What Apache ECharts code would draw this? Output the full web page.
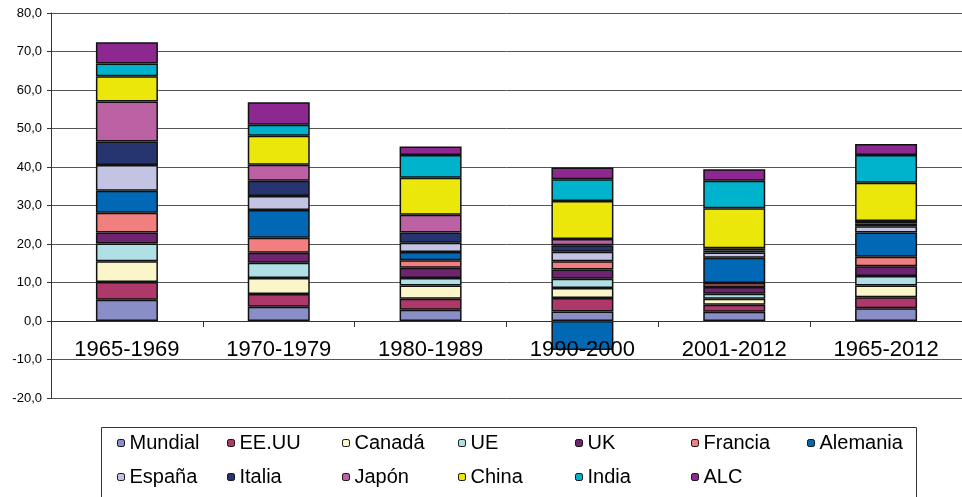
<!DOCTYPE html>
<html>
<head>
<meta charset="utf-8">
<script src="https://cdn.jsdelivr.net/npm/echarts@6/dist/echarts.min.js"></script>
<style>html,body{margin:0;padding:0;background:#fff}#c{width:962px;height:497px}</style>
</head>
<body>
<div id="c"></div>
<script>
var categories = ['1965-1969','1970-1979','1980-1989','1990-2000','2001-2012','1965-2012'];
var yTicks = [-20,-10,0,10,20,30,40,50,60,70,80];
var mundial  = [5.5, 3.7, 2.9, 2.5, 2.4, 3.3];
var eeuu     = [4.6, 3.3, 2.9, 3.5, 1.8, 2.9];
var canada   = [5.4, 4.2, 3.4, 2.6, 1.6, 3.0];
var ue       = [4.6, 3.9, 2.0, 2.4, 1.3, 2.5];
var uk       = [2.9, 2.6, 2.6, 2.4, 1.7, 2.5];
var francia  = [5.1, 3.9, 2.0, 2.1, 1.1, 2.5];
var alemania = [5.7, 7.2, 2.1, -7.5, 6.5, 6.3];
var espana   = [6.7, 3.7, 2.4, 2.5, 1.4, 1.6];
var italia   = [6.1, 3.9, 2.7, 1.7, 0.5, 0.7];
var japon    = [10.4, 4.2, 4.6, 1.6, 0.6, 0.7];
var china    = [6.6, 7.5, 9.6, 9.9, 10.4, 9.9];
var india    = [3.3, 2.9, 5.9, 5.6, 7.1, 7.2];
var alc      = [5.5, 5.8, 2.2, 3.1, 3.0, 2.9];

var seriesNames = ['Mundial','EE.UU','Canadá','UE','UK','Francia','Alemania','España','Italia','Japón','China','India','ALC'];
var seriesData = [mundial, eeuu, canada, ue, uk, francia, alemania, espana, italia, japon, china, india, alc];
var colors = ['#8A8EC6','#AF386B','#FAF6CA','#B0E0E6','#6F2470','#F27F7F','#0068B4','#C3C3E3','#263570','#BC62A4','#EBE70B','#00B3CC','#8C2890'];

var FONT = "'Liberation Sans', Arial, sans-serif";

var series = seriesNames.map(function (n, i) {
  return {
    name: n, type: 'bar', stack: 'total', barWidth: 62,
    data: seriesData[i],
    itemStyle: { color: colors[i], borderColor: '#111', borderWidth: 1.5 },
    emphasis: { disabled: true }
  };
});

var legendCols = [117, 227, 342, 458, 575, 691, 807];
var legendRows = [433, 467];
var legends = seriesNames.map(function (n, i) {
  var row = i < 7 ? 0 : 1;
  var col = i < 7 ? i : i - 7;
  return {
    data: [n], left: legendCols[col], top: legendRows[row], padding: 0,
    itemWidth: 7, itemHeight: 7, selectedMode: false,
    itemStyle: { borderColor: '#111', borderWidth: 1 },
    textStyle: { fontFamily: FONT, fontSize: 20, color: '#000', lineHeight: 20, padding: [0,0,0,0] }
  };
});

var chart = echarts.init(document.getElementById('c'));
chart.setOption({
  animation: false,
  backgroundColor: '#fff',
  grid: { left: 51, right: -8, top: 13, bottom: 99, containLabel: false },
  legend: legends,
  graphic: [{
    type: 'rect', silent: true,
    shape: { x: 101.5, y: 427.5, width: 815, height: 100 },
    style: { fill: 'none', stroke: '#333', lineWidth: 1 }
  }],
  xAxis: {
    type: 'category', data: categories, z: 10, position: 'bottom', offset: -77,
    axisLine: { onZero: false, lineStyle: { color: '#333', width: 1 } },
    axisTick: { show: true, length: 6, inside: false, lineStyle: { color: '#333' } },
    axisLabel: { fontFamily: FONT, fontSize: 22, color: '#000', margin: 18 },
    splitLine: { show: false }
  },
  yAxis: {
    type: 'value', min: yTicks[0], max: yTicks[yTicks.length - 1], interval: 10,
    axisLine: { show: true, lineStyle: { color: '#333' } },
    axisTick: { show: true, length: 4, lineStyle: { color: '#333' } },
    axisLabel: {
      fontFamily: FONT, fontSize: 13, color: '#000', margin: 9,
      formatter: function (v) { return v.toFixed(1).replace('.', ','); }
    },
    splitLine: { show: true, lineStyle: { color: '#555', width: 1 } }
  },
  series: series
});
</script>
</body>
</html>
